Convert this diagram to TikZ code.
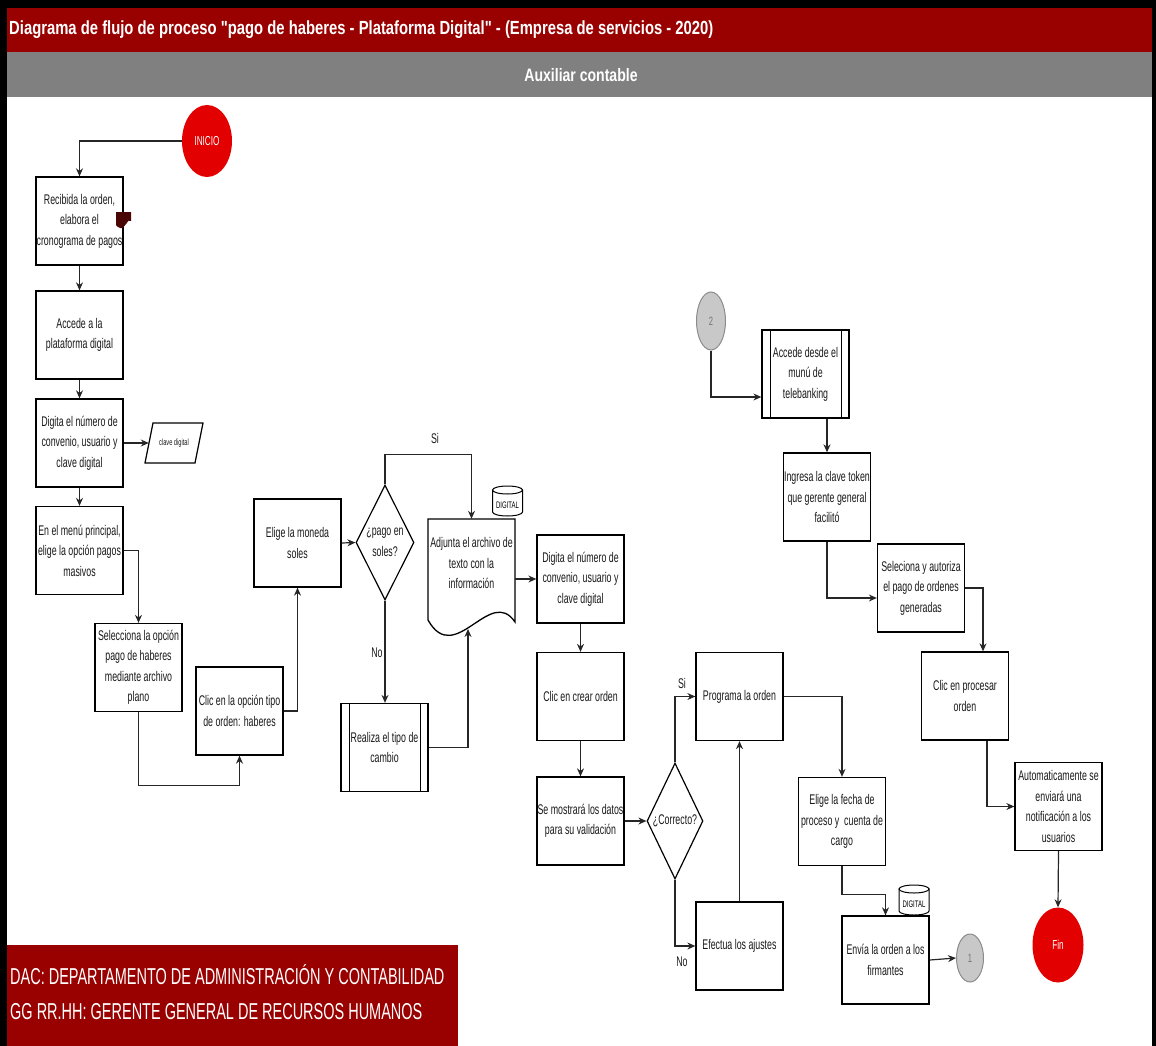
\documentclass[tikz,border=0pt]{standalone}
\usepackage{fontspec}
\setmainfont{Liberation Sans}
\newfontfamily\bodyfont[FakeStretch=0.63]{Liberation Sans}
\newfontfamily\headfont[FakeStretch=0.78]{Liberation Sans}
\usetikzlibrary{shapes.geometric,arrows.meta,calc}
\definecolor{titlered}{HTML}{990000}
\definecolor{bargray}{HTML}{808080}
\definecolor{termred}{HTML}{E30000}
\definecolor{connfill}{HTML}{C8C8C8}
\definecolor{connline}{HTML}{8C8C8C}
\definecolor{tagdark}{HTML}{4A0505}

\tikzset{
  pics/dbtag/.style={code={
    \draw[line width=1pt, fill=white] (-15,-11) -- (-15,11)
      arc[start angle=180,end angle=0,x radius=15,y radius=4] -- (15,-11) -- cycle;
    \draw[line width=1pt, fill=white] (0,-11) ellipse[x radius=15,y radius=4];
    \node[font=\bodyfont\fontsize{9.5}{10}\selectfont, inner sep=0pt] (-lbl) at (0,4) {DIGITAL};
  }}
}

\begin{document}
\begin{tikzpicture}[x=1pt,y=-1pt,
  txt/.style={font=\bodyfont\fontsize{14}{20.5}\selectfont, text=black!90, align=center, inner sep=0pt},
  proc/.style={txt, draw=black, line width=1.3pt, fill=white,
    minimum width=87pt, minimum height=88pt},
  prebox/.style={proc, path picture={
    \draw[line width=1pt] ([xshift=8pt]path picture bounding box.north west) -- ([xshift=8pt]path picture bounding box.south west);
    \draw[line width=1pt] ([xshift=-8pt]path picture bounding box.north east) -- ([xshift=-8pt]path picture bounding box.south east);}},
  dia/.style={shape=diamond, draw=black, line width=1.2pt, fill=white, inner sep=0pt},
  term/.style={shape=ellipse, fill=termred, draw=none, inner sep=0pt, text=white,
    font=\bodyfont\fontsize{13}{14}\selectfont},
  conn/.style={shape=ellipse, fill=connfill, draw=connline, line width=1pt, inner sep=0pt,
    text=black!55, font=\bodyfont\fontsize{12}{13}\selectfont},
  arr/.style={draw=black!85, line width=1.2pt, -{Stealth[length=8pt,width=7pt]}},
  lbl/.style={txt}
]
\useasboundingbox (0,0) rectangle (1156,1046);

% frame and header bands
\fill[black] (0,0) rectangle (1156,8);
\fill[black] (0,0) rectangle (7,1046);
\fill[black] (1152,0) rectangle (1156,1046);
\fill[titlered] (7,8) rectangle (1152,52);
\fill[bargray] (7,52) rectangle (1152,97);
\node[anchor=west, text=white, inner sep=0pt, font=\headfont\bfseries\fontsize{19}{21}\selectfont] (title) at (9,30)
  {Diagrama de flujo de proceso "pago de haberes - Plataforma Digital" - (Empresa de servicios - 2020)};
\node[text=white, inner sep=0pt, font=\headfont\bfseries\fontsize{18}{20}\selectfont] (lane) at (581,75) {Auxiliar contable};

% left column
\node[term, minimum width=50pt, minimum height=72pt] (ini) at (207,141) {INICIO};
\node[proc] (b1) at (79.5,221) {Recibida la orden,\\elabora el\\cronograma de pagos};
\fill[tagdark] (116,212) -- (131,212) -- (131,221) .. controls (128,217) and (125,230) .. (120,228)
  .. controls (118,227) and (116,226) .. (116,225) -- cycle;
\node[proc] (b2) at (79.5,335) {Accede a la\\plataforma digital};
\node[proc] (b3) at (79.5,443) {Digita el número de\\convenio, usuario y\\clave digital};
\draw[line width=1.2pt, fill=white] (153,423) -- (203,423) -- (195,463) -- (145,463) -- cycle;
\node[txt, font=\bodyfont\fontsize{9}{10}\selectfont, minimum width=50pt] (par) at (174,443) {clave digital};
\node[proc] (b4) at (79.5,550.5) {En el menú principal,\\elige la opción pagos\\masivos};
\node[proc] (b5) at (138.5,667.5) {Selecciona la opción\\pago de haberes\\mediante archivo\\plano};
\node[proc] (b6) at (239.5,711) {Clic en la opción tipo\\de orden: haberes};
\node[proc] (b7) at (297.5,543) {Elige la moneda\\soles};
\node[dia, minimum width=58pt, minimum height=115pt] (d1) at (385,542.5) {};
\node[txt] (d1t) at (385,542.5) {¿pago en\\soles?};
\node[prebox] (b8) at (384.5,747.5) {Realiza el tipo de\\cambio};

% attached text file
\draw[line width=1.3pt, fill=white] (428,519) -- (515,519) -- (515,622)
  .. controls (490,585) and (455,668) .. (428,620) -- cycle;
\node[txt, minimum width=87pt, minimum height=88pt] (doc) at (471.5,563) {Adjunta el archivo de\\texto con la\\información};
\coordinate (docin) at (468,629);
\pic (cyl1) at (507.5,501) {dbtag};

% middle column
\node[proc] (b9) at (580.5,579) {Digita el número de\\convenio, usuario y\\clave digital};
\node[proc] (b10) at (580.5,696.5) {Clic en crear orden};
\node[proc] (b11) at (580.5,821) {Se mostrará los datos\\para su validación};
\node[dia, minimum width=56pt, minimum height=116pt] (d2) at (675,821) {};
\node[txt] (d2t) at (675,821) {¿Correcto?};
\node[proc] (b12) at (739.5,696.5) {Programa la orden};
\node[proc] (b13) at (739.5,946) {Efectua los ajustes};
\node[proc] (b14) at (842,821.5) {Elige la fecha de\\proceso y \ cuenta de\\cargo};
\node[proc] (b15) at (885.5,960) {Envía la orden a los\\firmantes};
\pic (cyl2) at (914,900) {dbtag};
\node[conn, minimum width=27pt, minimum height=48pt] (c1) at (970,958) {1};

% right column
\node[conn, minimum width=29pt, minimum height=58pt] (c2) at (711,321) {2};
\node[prebox] (b16) at (805.5,374) {Accede desde el\\munú de\\telebanking};
\node[proc] (b17) at (827,497) {Ingresa la clave token\\que gerente general\\facilitó};
\node[proc] (b18) at (921,588) {Seleciona y autoriza\\el pago de ordenes\\generadas};
\node[proc] (b19) at (965,696) {Clic en procesar\\orden};
\node[proc] (b20) at (1058.5,806.5) {Automaticamente se\\enviará una\\notificación a los\\usuarios};
\node[term, minimum width=51pt, minimum height=75pt] (fin) at (1058,945) {Fin};

% legend box
\fill[titlered] (7,945) rectangle (458,1046);
\node[anchor=west, text=white, inner sep=0pt, align=left, font=\bodyfont\fontsize{23}{35}\selectfont] (abbr) at (10,992.5)
  {DAC: DEPARTAMENTO DE ADMINISTRACIÓN Y CONTABILIDAD\\GG RR.HH: GERENTE GENERAL DE RECURSOS HUMANOS};

% connectors
\draw[arr] (ini.west) -| (b1.north);
\draw[arr] (b1) -- (b2);
\draw[arr] (b2) -- (b3);
\draw[arr] (b3.east) -- (par.west);
\draw[arr] (b3) -- (b4);
\draw[arr] (b4.east) -| (b5.north);
\draw[arr] (b5.south) -- ++(0,73) -| (b6.south);
\draw[arr] (b6.east) -| (b7.south);
\draw[arr] (b7.east) -- (d1.west);
\draw[arr] (d1.north) -- ++(0,-30) -| (doc.north);
\node[lbl] (si1) at (435,438) {Si};
\draw[arr] (d1.south) -- (d1.south |- b8.north);
\node[lbl] (no1) at (377,653) {No};
\draw[arr] (b8.east) -| (docin);
\draw[arr] (b9.west -| doc.east) -- (b9.west);
\draw[arr] (b9) -- (b10);
\draw[arr] (b10) -- (b11);
\draw[arr] (b11.east) -- (d2.west);
\draw[arr] (d2.north) |- (b12.west);
\node[lbl] (si2) at (682,683) {Si};
\draw[arr] (d2.south) |- (b13.west);
\node[lbl] (no2) at (682,962) {No};
\draw[arr] (b13) -- (b12);
\draw[arr] (b12.east) -| (b14.north);
\draw[arr] (b14.south) -- ++(0,28) -| (b15.north);
\draw[arr] (b15.east) -- (c1.west);
\draw[arr] (c2.south) |- ($(b16.west)+(0,23)$);
\draw[arr] (b17.north |- b16.south) -- (b17.north);
\draw[arr] (b17.south) |- ($(b18.west)+(0,10)$);
\draw[arr] (b18.east) -| ($(b19.north)+(18,0)$);
\draw[arr] ($(b19.south)+(22,0)$) |- (b20.west);
\draw[arr] (b20.south) -- (fin.north);
\end{tikzpicture}
\end{document}
